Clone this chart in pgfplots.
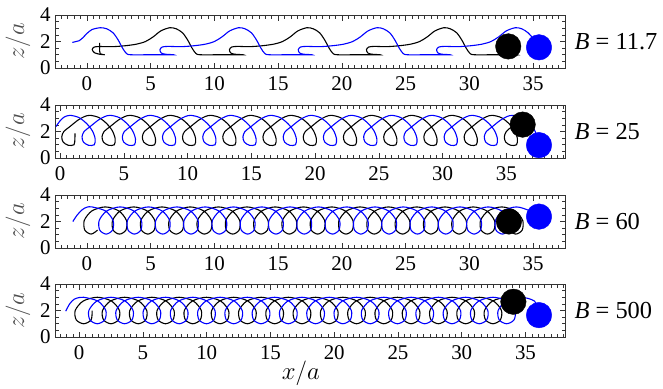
\documentclass[border=0pt]{standalone}
\usepackage{fontspec}
\setmainfont{Liberation Serif}
\usepackage{pgfplots}
\pgfplotsset{compat=1.18}
\definecolor{pblue}{RGB}{0,0,255}
\pgfplotsset{
  panel/.style={
    scale only axis, width=510bp, height=53bp,
    ymin=0, ymax=4, ytick={0,2,4}, minor ytick={0.5,1,...,3.5},
    xtick={0,5,...,35}, minor xtick={-2.5,-2,...,39.5},
    tick align=inside, major tick length=5.5bp, minor tick length=3.5bp,
    xtick pos=both, ytick pos=both, xticklabel pos=lower, yticklabel pos=left,
    axis line style={black!80, line width=0.8pt},
    every tick/.style={black!80, line width=0.6pt},
    tick label style={font=\fontsize{21}{21}\selectfont},
    xticklabel shift=5bp, yticklabel shift=1bp,
    /pgf/number format/assume math mode=true,
    ylabel={$z/a$},
    ylabel style={font=\fontsize{23}{23}\selectfont, text=black!70, at={(axis description cs:-0.0725,0.5)}, anchor=center},
    clip=false,
  },
  blk/.style={black, line width=1.1pt, smooth, tension=0.5},
  blu/.style={pblue, line width=1.1pt, smooth, tension=0.5},
  ball/.style={only marks, mark=*, mark size=12.8pt},
}
\newcommand{\blabel}[1]{\node[anchor=west, font=\fontsize{24.5}{24.5}\selectfont] at (axis description cs:1.012,0.5) {#1};}
\begin{document}
\begin{tikzpicture}
\useasboundingbox (0,0) rectangle (663bp,-389bp);
% Panel 1
\begin{axis}[panel, at={(55bp,-15bp)}, anchor=north west, xmin=-2.5, xmax=37.5]
\addplot[blk] coordinates {(1.0,1.9) (1.0,1.45) (1.05,1.08) (1.4,1.0) (1.0,1.04) (0.6,1.15) (0.42,1.38) (0.55,1.57) (0.95,1.62)
(2.0,1.61) (3.0,1.68) (3.9,1.8) (4.6,2.0) (5.2,2.35) (5.8,2.8) (6.5,3.04) (7.0,2.96) (7.5,2.66) (7.9,2.12) (8.25,1.5) (8.55,1.1) (8.9,1.0) (10.5,1.0) (12.25,1.0) (11.6,1.04) (11.28,1.14) (11.18,1.38) (11.35,1.58) (11.8,1.63)
(12.75,1.61) (13.75,1.68) (14.65,1.8) (15.35,2.0) (15.95,2.35) (16.55,2.8) (17.25,3.04) (17.75,2.96) (18.25,2.66) (18.65,2.12) (19.0,1.5) (19.3,1.1) (19.65,1.0) (21.25,1.0) (23.0,1.0) (22.35,1.04) (22.03,1.14) (21.93,1.38) (22.1,1.58) (22.55,1.63)
(23.5,1.61) (24.5,1.68) (25.4,1.8) (26.1,2.0) (26.7,2.35) (27.3,2.8) (28.0,3.04) (28.5,2.96) (29.0,2.66) (29.4,2.12) (29.75,1.5) (30.05,1.1) (30.4,1.0) (32.0,1.0) (33.75,1.0) (33.1,1.04) (32.78,1.14) (32.68,1.38) (33.05,1.6)};
\addplot[blu] coordinates {(-1.14,1.93) (-0.85,2.0) (-0.6,2.06) (-0.3,2.3) (0.0,2.6) (0.4,2.9) (1.05,3.04) (1.55,2.96) (2.05,2.66) (2.45,2.12) (2.8,1.5) (3.1,1.1) (3.45,1.0) (5.05,1.0) (6.8,1.0) (6.15,1.04) (5.83,1.14) (5.73,1.38) (5.9,1.58) (6.35,1.63)
(7.4,1.61) (8.4,1.68) (9.3,1.8) (10.0,2.0) (10.6,2.35) (11.2,2.8) (11.9,3.04) (12.4,2.96) (12.9,2.66) (13.3,2.12) (13.65,1.5) (13.95,1.1) (14.3,1.0) (15.9,1.0) (17.65,1.0) (17.0,1.04) (16.68,1.14) (16.58,1.38) (16.75,1.58) (17.2,1.63)
(18.25,1.61) (19.25,1.68) (20.15,1.8) (20.85,2.0) (21.45,2.35) (22.05,2.8) (22.75,3.04) (23.25,2.96) (23.75,2.66) (24.15,2.12) (24.5,1.5) (24.8,1.1) (25.15,1.0) (26.75,1.0) (28.5,1.0) (27.85,1.04) (27.53,1.14) (27.43,1.38) (27.6,1.58) (28.05,1.63)
(29.1,1.61) (30.1,1.68) (31.0,1.8) (31.7,2.0) (32.3,2.35) (32.9,2.8) (33.6,3.04) (34.1,2.96) (34.6,2.66) (35.1,2.1) (35.46,1.55)};
\addplot[ball, black] coordinates {(33.05,1.63)};
\addplot[ball, pblue] coordinates {(35.46,1.56)};
\blabel{{\itshape B} = 11.7}
\end{axis}
% Panel 2
\begin{axis}[panel, at={(55bp,-105bp)}, anchor=north west, xmin=-0.4, xmax=39.6]
\addplot[blk] coordinates {(1.17,1.85) (1.16,1.45) (1.09,1.0) (0.64,0.96) (0.24,1.2) (0.13,1.6) (0.29,2.0) (0.74,2.35) (1.39,2.85) (1.89,3.12)
(2.35,3.22) (3.05,3.05) (3.65,2.6) (4.1,2.05) (4.32,1.45) (4.25,1.0) (3.8,0.96) (3.4,1.2) (3.29,1.6) (3.45,2.0) (3.9,2.35) (4.55,2.85) (5.05,3.12)
(5.51,3.22) (6.21,3.05) (6.81,2.6) (7.26,2.05) (7.48,1.45) (7.41,1.0) (6.96,0.96) (6.56,1.2) (6.45,1.6) (6.61,2.0) (7.06,2.35) (7.71,2.85) (8.21,3.12)
(8.66,3.22) (9.36,3.05) (9.96,2.6) (10.41,2.05) (10.63,1.45) (10.56,1.0) (10.11,0.96) (9.71,1.2) (9.6,1.6) (9.76,2.0) (10.21,2.35) (10.86,2.85) (11.36,3.12)
(11.82,3.22) (12.52,3.05) (13.12,2.6) (13.57,2.05) (13.79,1.45) (13.72,1.0) (13.27,0.96) (12.87,1.2) (12.76,1.6) (12.92,2.0) (13.37,2.35) (14.02,2.85) (14.52,3.12)
(14.97,3.22) (15.67,3.05) (16.27,2.6) (16.72,2.05) (16.94,1.45) (16.87,1.0) (16.42,0.96) (16.02,1.2) (15.91,1.6) (16.07,2.0) (16.52,2.35) (17.17,2.85) (17.67,3.12)
(18.13,3.22) (18.83,3.05) (19.43,2.6) (19.88,2.05) (20.1,1.45) (20.03,1.0) (19.58,0.96) (19.18,1.2) (19.07,1.6) (19.23,2.0) (19.68,2.35) (20.33,2.85) (20.83,3.12)
(21.28,3.22) (21.98,3.05) (22.58,2.6) (23.03,2.05) (23.25,1.45) (23.18,1.0) (22.73,0.96) (22.33,1.2) (22.22,1.6) (22.38,2.0) (22.83,2.35) (23.48,2.85) (23.98,3.12)
(24.44,3.22) (25.14,3.05) (25.74,2.6) (26.19,2.05) (26.41,1.45) (26.34,1.0) (25.89,0.96) (25.49,1.2) (25.38,1.6) (25.54,2.0) (25.99,2.35) (26.64,2.85) (27.14,3.12)
(27.59,3.22) (28.29,3.05) (28.89,2.6) (29.34,2.05) (29.56,1.45) (29.49,1.0) (29.04,0.96) (28.64,1.2) (28.53,1.6) (28.69,2.0) (29.14,2.35) (29.79,2.85) (30.29,3.12)
(30.75,3.22) (31.45,3.05) (32.05,2.6) (32.5,2.05) (32.72,1.45) (32.65,1.0) (32.2,0.96) (31.8,1.2) (31.69,1.6) (31.85,2.0) (32.3,2.35) (32.95,2.85) (33.45,3.12)
(33.9,3.22) (34.6,3.05) (35.2,2.6) (35.65,2.05) (35.87,1.45) (35.8,1.0) (35.35,0.96) (34.95,1.2) (34.84,1.6) (35.0,2.0) (35.45,2.35) (36.28,2.52)};
\addplot[blu] coordinates {(-0.32,2.37) (-0.05,2.75) (0.3,3.08)
(0.78,3.22) (1.48,3.05) (2.08,2.6) (2.53,2.05) (2.75,1.45) (2.68,1.0) (2.23,0.96) (1.83,1.2) (1.72,1.6) (1.88,2.0) (2.33,2.35) (2.98,2.85) (3.48,3.12)
(3.94,3.22) (4.64,3.05) (5.24,2.6) (5.69,2.05) (5.91,1.45) (5.84,1.0) (5.39,0.96) (4.99,1.2) (4.88,1.6) (5.04,2.0) (5.49,2.35) (6.14,2.85) (6.64,3.12)
(7.09,3.22) (7.79,3.05) (8.39,2.6) (8.84,2.05) (9.06,1.45) (8.99,1.0) (8.54,0.96) (8.14,1.2) (8.03,1.6) (8.19,2.0) (8.64,2.35) (9.29,2.85) (9.79,3.12)
(10.25,3.22) (10.95,3.05) (11.55,2.6) (12.0,2.05) (12.22,1.45) (12.15,1.0) (11.7,0.96) (11.3,1.2) (11.19,1.6) (11.35,2.0) (11.8,2.35) (12.45,2.85) (12.95,3.12)
(13.4,3.22) (14.1,3.05) (14.7,2.6) (15.15,2.05) (15.37,1.45) (15.3,1.0) (14.85,0.96) (14.45,1.2) (14.34,1.6) (14.5,2.0) (14.95,2.35) (15.6,2.85) (16.1,3.12)
(16.56,3.22) (17.26,3.05) (17.86,2.6) (18.31,2.05) (18.53,1.45) (18.46,1.0) (18.01,0.96) (17.61,1.2) (17.5,1.6) (17.66,2.0) (18.11,2.35) (18.76,2.85) (19.26,3.12)
(19.71,3.22) (20.41,3.05) (21.01,2.6) (21.46,2.05) (21.68,1.45) (21.61,1.0) (21.16,0.96) (20.76,1.2) (20.65,1.6) (20.81,2.0) (21.26,2.35) (21.91,2.85) (22.41,3.12)
(22.87,3.22) (23.57,3.05) (24.17,2.6) (24.62,2.05) (24.84,1.45) (24.77,1.0) (24.32,0.96) (23.92,1.2) (23.81,1.6) (23.97,2.0) (24.42,2.35) (25.07,2.85) (25.57,3.12)
(26.02,3.22) (26.72,3.05) (27.32,2.6) (27.77,2.05) (27.99,1.45) (27.92,1.0) (27.47,0.96) (27.07,1.2) (26.96,1.6) (27.12,2.0) (27.57,2.35) (28.22,2.85) (28.72,3.12)
(29.18,3.22) (29.88,3.05) (30.48,2.6) (30.93,2.05) (31.15,1.45) (31.08,1.0) (30.63,0.96) (30.23,1.2) (30.12,1.6) (30.28,2.0) (30.73,2.35) (31.38,2.85) (31.88,3.12)
(32.33,3.22) (33.03,3.05) (33.63,2.6) (34.08,2.05) (34.3,1.45) (34.23,1.0) (33.78,0.96) (33.38,1.2) (33.27,1.6) (33.43,2.0) (33.88,2.35) (34.53,2.85) (35.03,3.12)
(35.49,3.22) (36.19,3.05) (36.79,2.6) (37.24,2.05) (37.46,1.45) (37.56,1.0)};
\addplot[ball, black] coordinates {(36.28,2.52)};
\addplot[ball, pblue] coordinates {(37.56,0.97)};
\blabel{{\itshape B} = 25}
\end{axis}
% Panel 3
\begin{axis}[panel, at={(55bp,-195bp)}, anchor=north west, xmin=-2.5, xmax=37.5]
\addplot[blk] coordinates {(0.84,1.35) (0.34,1.05) (-0.16,1.35) (-0.205,2.08) (0.395,2.8)
(1.45,3.1) (2.505,2.8) (3.105,2.08) (3.06,1.35) (2.56,1.05) (2.06,1.35) (2.015,2.08) (2.615,2.8)
(3.67,3.1) (4.725,2.8) (5.325,2.08) (5.28,1.35) (4.78,1.05) (4.28,1.35) (4.235,2.08) (4.835,2.8)
(5.89,3.1) (6.945,2.8) (7.545,2.08) (7.5,1.35) (7.0,1.05) (6.5,1.35) (6.455,2.08) (7.055,2.8)
(8.11,3.1) (9.165,2.8) (9.765,2.08) (9.72,1.35) (9.22,1.05) (8.72,1.35) (8.675,2.08) (9.275,2.8)
(10.33,3.1) (11.385,2.8) (11.985,2.08) (11.94,1.35) (11.44,1.05) (10.94,1.35) (10.895,2.08) (11.495,2.8)
(12.55,3.1) (13.605,2.8) (14.205,2.08) (14.16,1.35) (13.66,1.05) (13.16,1.35) (13.115,2.08) (13.715,2.8)
(14.77,3.1) (15.825,2.8) (16.425,2.08) (16.38,1.35) (15.88,1.05) (15.38,1.35) (15.335,2.08) (15.935,2.8)
(16.99,3.1) (18.045,2.8) (18.645,2.08) (18.6,1.35) (18.1,1.05) (17.6,1.35) (17.555,2.08) (18.155,2.8)
(19.21,3.1) (20.265,2.8) (20.865,2.08) (20.82,1.35) (20.32,1.05) (19.82,1.35) (19.775,2.08) (20.375,2.8)
(21.43,3.1) (22.485,2.8) (23.085,2.08) (23.04,1.35) (22.54,1.05) (22.04,1.35) (21.995,2.08) (22.595,2.8)
(23.65,3.1) (24.705,2.8) (25.305,2.08) (25.26,1.35) (24.76,1.05) (24.26,1.35) (24.215,2.08) (24.815,2.8)
(25.87,3.1) (26.925,2.8) (27.525,2.08) (27.48,1.35) (26.98,1.05) (26.48,1.35) (26.435,2.08) (27.035,2.8)
(28.09,3.1) (29.145,2.8) (29.745,2.08) (29.7,1.35) (29.2,1.05) (28.7,1.35) (28.655,2.08) (29.255,2.8)
(30.31,3.1) (31.365,2.8) (31.965,2.08) (31.92,1.35) (31.42,1.05) (30.92,1.35) (30.875,2.08) (31.475,2.8)
(32.53,3.1) (33.585,2.8) (34.185,2.08) (34.14,1.35) (33.64,1.05) (33.14,1.35) (33.1,2.0)};
\addplot[blu] coordinates {(-1.1,2.0) (-0.75,2.5) (-0.35,2.9) (0.0,3.08)
(0.4,3.1) (1.455,2.8) (2.055,2.08) (2.01,1.35) (1.51,1.05) (1.01,1.35) (0.965,2.08) (1.565,2.8)
(2.62,3.1) (3.675,2.8) (4.275,2.08) (4.23,1.35) (3.73,1.05) (3.23,1.35) (3.185,2.08) (3.785,2.8)
(4.84,3.1) (5.895,2.8) (6.495,2.08) (6.45,1.35) (5.95,1.05) (5.45,1.35) (5.405,2.08) (6.005,2.8)
(7.06,3.1) (8.115,2.8) (8.715,2.08) (8.67,1.35) (8.17,1.05) (7.67,1.35) (7.625,2.08) (8.225,2.8)
(9.28,3.1) (10.335,2.8) (10.935,2.08) (10.89,1.35) (10.39,1.05) (9.89,1.35) (9.845,2.08) (10.445,2.8)
(11.5,3.1) (12.555,2.8) (13.155,2.08) (13.11,1.35) (12.61,1.05) (12.11,1.35) (12.065,2.08) (12.665,2.8)
(13.72,3.1) (14.775,2.8) (15.375,2.08) (15.33,1.35) (14.83,1.05) (14.33,1.35) (14.285,2.08) (14.885,2.8)
(15.94,3.1) (16.995,2.8) (17.595,2.08) (17.55,1.35) (17.05,1.05) (16.55,1.35) (16.505,2.08) (17.105,2.8)
(18.16,3.1) (19.215,2.8) (19.815,2.08) (19.77,1.35) (19.27,1.05) (18.77,1.35) (18.725,2.08) (19.325,2.8)
(20.38,3.1) (21.435,2.8) (22.035,2.08) (21.99,1.35) (21.49,1.05) (20.99,1.35) (20.945,2.08) (21.545,2.8)
(22.6,3.1) (23.655,2.8) (24.255,2.08) (24.21,1.35) (23.71,1.05) (23.21,1.35) (23.165,2.08) (23.765,2.8)
(24.82,3.1) (25.875,2.8) (26.475,2.08) (26.43,1.35) (25.93,1.05) (25.43,1.35) (25.385,2.08) (25.985,2.8)
(27.04,3.1) (28.095,2.8) (28.695,2.08) (28.65,1.35) (28.15,1.05) (27.65,1.35) (27.605,2.08) (28.205,2.8)
(29.26,3.1) (30.315,2.8) (30.915,2.08) (30.87,1.35) (30.37,1.05) (29.87,1.35) (29.825,2.08) (30.425,2.8)
(31.48,3.1) (32.535,2.8) (33.135,2.08) (33.09,1.35) (32.59,1.05) (32.09,1.35) (32.045,2.08) (32.645,2.8)
(33.7,3.1) (34.755,2.8) (35.46,2.37)};
\addplot[ball, black] coordinates {(33.1,2.0)};
\addplot[ball, pblue] coordinates {(35.46,2.37)};
\blabel{{\itshape B} = 60}
\end{axis}
% Panel 4
\begin{axis}[panel, at={(55bp,-284bp)}, anchor=north west, xmin=-1.9, xmax=38.1,
  xlabel={$x/a$}, xlabel style={font=\fontsize{31}{31}\selectfont, at={(axis description cs:0.482,-0.685)}, anchor=center}]
\addplot[blk] coordinates {(1.015,2.0) (0.931,1.29) (0.35,1.0) (-0.231,1.29) (-0.315,2.0) (0.304,2.71)
(1.42,3.0) (2.536,2.71) (3.155,2.0) (3.071,1.29) (2.49,1.0) (1.909,1.29) (1.825,2.0) (2.444,2.71)
(3.56,3.0) (4.676,2.71) (5.295,2.0) (5.211,1.29) (4.63,1.0) (4.049,1.29) (3.965,2.0) (4.584,2.71)
(5.7,3.0) (6.816,2.71) (7.435,2.0) (7.351,1.29) (6.77,1.0) (6.189,1.29) (6.105,2.0) (6.724,2.71)
(7.84,3.0) (8.956,2.71) (9.575,2.0) (9.491,1.29) (8.91,1.0) (8.329,1.29) (8.245,2.0) (8.864,2.71)
(9.98,3.0) (11.096,2.71) (11.715,2.0) (11.631,1.29) (11.05,1.0) (10.469,1.29) (10.385,2.0) (11.004,2.71)
(12.12,3.0) (13.236,2.71) (13.855,2.0) (13.771,1.29) (13.19,1.0) (12.609,1.29) (12.525,2.0) (13.144,2.71)
(14.26,3.0) (15.376,2.71) (15.995,2.0) (15.911,1.29) (15.33,1.0) (14.749,1.29) (14.665,2.0) (15.284,2.71)
(16.4,3.0) (17.516,2.71) (18.135,2.0) (18.051,1.29) (17.47,1.0) (16.889,1.29) (16.805,2.0) (17.424,2.71)
(18.54,3.0) (19.656,2.71) (20.275,2.0) (20.191,1.29) (19.61,1.0) (19.029,1.29) (18.945,2.0) (19.564,2.71)
(20.68,3.0) (21.796,2.71) (22.415,2.0) (22.331,1.29) (21.75,1.0) (21.169,1.29) (21.085,2.0) (21.704,2.71)
(22.82,3.0) (23.936,2.71) (24.555,2.0) (24.471,1.29) (23.89,1.0) (23.309,1.29) (23.225,2.0) (23.844,2.71)
(24.96,3.0) (26.076,2.71) (26.695,2.0) (26.611,1.29) (26.03,1.0) (25.449,1.29) (25.365,2.0) (25.984,2.71)
(27.1,3.0) (28.216,2.71) (28.835,2.0) (28.751,1.29) (28.17,1.0) (27.589,1.29) (27.505,2.0) (28.124,2.71)
(29.24,3.0) (30.356,2.71) (30.975,2.0) (30.891,1.29) (30.31,1.0) (29.729,1.29) (29.645,2.0) (30.264,2.71)
(31.38,3.0) (32.496,2.71) (33.115,2.0) (33.031,1.29) (32.45,1.0) (31.869,1.29) (31.785,2.0) (32.404,2.71)
(33.52,3.0) (34.05,2.7)};
\addplot[blu] coordinates {(-1.06,1.95) (-0.75,2.5) (-0.4,2.85) (0.0,2.98)
(0.35,3.0) (1.466,2.71) (2.085,2.0) (2.001,1.29) (1.42,1.0) (0.839,1.29) (0.755,2.0) (1.374,2.71)
(2.49,3.0) (3.606,2.71) (4.225,2.0) (4.141,1.29) (3.56,1.0) (2.979,1.29) (2.895,2.0) (3.514,2.71)
(4.63,3.0) (5.746,2.71) (6.365,2.0) (6.281,1.29) (5.7,1.0) (5.119,1.29) (5.035,2.0) (5.654,2.71)
(6.77,3.0) (7.886,2.71) (8.505,2.0) (8.421,1.29) (7.84,1.0) (7.259,1.29) (7.175,2.0) (7.794,2.71)
(8.91,3.0) (10.026,2.71) (10.645,2.0) (10.561,1.29) (9.98,1.0) (9.399,1.29) (9.315,2.0) (9.934,2.71)
(11.05,3.0) (12.166,2.71) (12.785,2.0) (12.701,1.29) (12.12,1.0) (11.539,1.29) (11.455,2.0) (12.074,2.71)
(13.19,3.0) (14.306,2.71) (14.925,2.0) (14.841,1.29) (14.26,1.0) (13.679,1.29) (13.595,2.0) (14.214,2.71)
(15.33,3.0) (16.446,2.71) (17.065,2.0) (16.981,1.29) (16.4,1.0) (15.819,1.29) (15.735,2.0) (16.354,2.71)
(17.47,3.0) (18.586,2.71) (19.205,2.0) (19.121,1.29) (18.54,1.0) (17.959,1.29) (17.875,2.0) (18.494,2.71)
(19.61,3.0) (20.726,2.71) (21.345,2.0) (21.261,1.29) (20.68,1.0) (20.099,1.29) (20.015,2.0) (20.634,2.71)
(21.75,3.0) (22.866,2.71) (23.485,2.0) (23.401,1.29) (22.82,1.0) (22.239,1.29) (22.155,2.0) (22.774,2.71)
(23.89,3.0) (25.006,2.71) (25.625,2.0) (25.541,1.29) (24.96,1.0) (24.379,1.29) (24.295,2.0) (24.914,2.71)
(26.03,3.0) (27.146,2.71) (27.765,2.0) (27.681,1.29) (27.1,1.0) (26.519,1.29) (26.435,2.0) (27.054,2.71)
(28.17,3.0) (29.286,2.71) (29.905,2.0) (29.821,1.29) (29.24,1.0) (28.659,1.29) (28.575,2.0) (29.194,2.71)
(30.31,3.0) (31.426,2.71) (32.045,2.0) (31.961,1.29) (31.38,1.0) (30.799,1.29) (30.715,2.0) (31.334,2.71)
(32.45,3.0) (33.566,2.71) (34.185,2.0) (34.101,1.29) (33.52,1.0) (32.939,1.29) (32.855,2.0) (33.474,2.71)
(34.59,3.0) (35.706,2.71) (36.1,1.8)};
\addplot[ball, black] coordinates {(34.05,2.66)};
\addplot[ball, pblue] coordinates {(36.06,1.65)};
\blabel{{\itshape B} = 500}
\end{axis}
\end{tikzpicture}
\end{document}
